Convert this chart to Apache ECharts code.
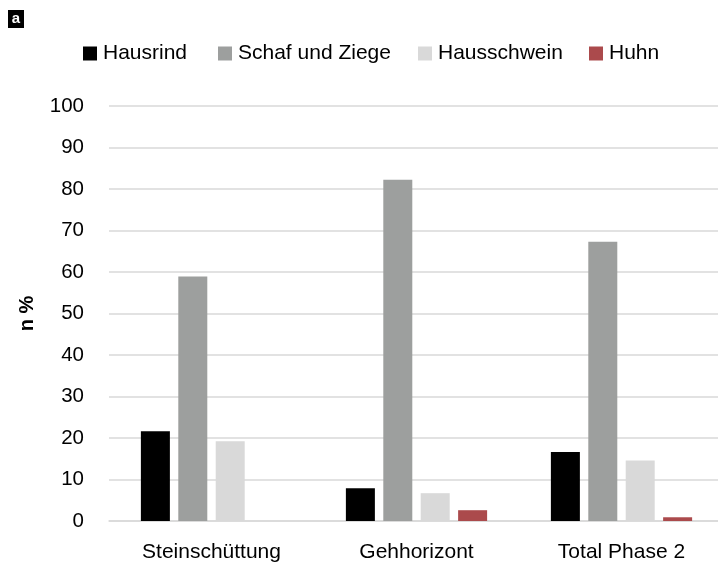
<!DOCTYPE html>
<html>
<head>
<meta charset="utf-8">
<script src="https://cdn.jsdelivr.net/npm/echarts@6/dist/echarts.min.js"></script>
<style>
  html, body { margin: 0; padding: 0; background: #fff; }
  #chart { width: 718px; height: 564px; }
</style>
</head>
<body>
<div id="chart"></div>
<script>
/**
 * DATA
 */
var categories = ['Steinschüttung', 'Gehhorizont', 'Total Phase 2'];
var seriesNames = ['Hausrind', 'Schaf und Ziege', 'Hausschwein', 'Huhn'];
var hausrind = [21.6, 7.9, 16.6];
var schafZiege = [58.9, 82.2, 67.3];
var hausschwein = [19.2, 6.7, 14.6];
var huhn = [0, 2.6, 0.9];
var colors = ['#000000', '#9d9f9e', '#d9d9d9', '#ab4a4c'];

var FONT = '"Liberation Sans", Arial, sans-serif';
// left edge of each legend entry (Excel spaces them unevenly)
var legendLefts = [83, 218, 418, 589];

/**
 * CHART
 */
var chart = echarts.init(document.getElementById('chart'));

var values = [hausrind, schafZiege, hausschwein, huhn];
var series = seriesNames.map(function (name, i) {
    return {
        name: name,
        type: 'bar',
        data: values[i],
        barWidth: 29,
        barGap: '29%',
        itemStyle: {color: colors[i]}
    };
});

var legends = seriesNames.map(function (name, i) {
    return {
        left: legendLefts[i],
        top: 43,
        padding: 0,
        itemWidth: 14,
        itemHeight: 14,
        icon: 'rect',
        textStyle: {fontSize: 21, color: '#000', padding: [0, 0, 0, 1]},
        data: [name]
    };
});

chart.setOption({
    animation: false,
    textStyle: {fontFamily: FONT},
    graphic: [
        {type: 'rect', shape: {x: 8, y: 10, width: 16, height: 18}, style: {fill: '#000'}},
        {type: 'text', style: {x: 16, y: 19, text: 'a', fill: '#fff', font: 'bold 15px ' + FONT,
            align: 'center', verticalAlign: 'middle'}}
    ],
    legend: legends,
    grid: {left: 109, top: 106, width: 615, height: 415, containLabel: false, outerBoundsMode: 'none'},
    xAxis: {
        type: 'category',
        data: categories,
        axisLine: {lineStyle: {color: '#d9d9d9', width: 1.5}},
        axisTick: {show: false},
        axisLabel: {fontSize: 21, color: '#000', margin: 21}
    },
    yAxis: {
        type: 'value',
        min: 0,
        max: 100,
        interval: 10,
        name: 'n %',
        nameLocation: 'middle',
        nameGap: 72,
        nameRotate: 90,
        nameTextStyle: {fontSize: 20, fontWeight: 'bold', color: '#000'},
        axisLabel: {fontSize: 20.5, color: '#000', margin: 25},
        splitLine: {lineStyle: {color: '#d9d9d9', width: 1.5}}
    },
    series: series
});
</script>
</body>
</html>
